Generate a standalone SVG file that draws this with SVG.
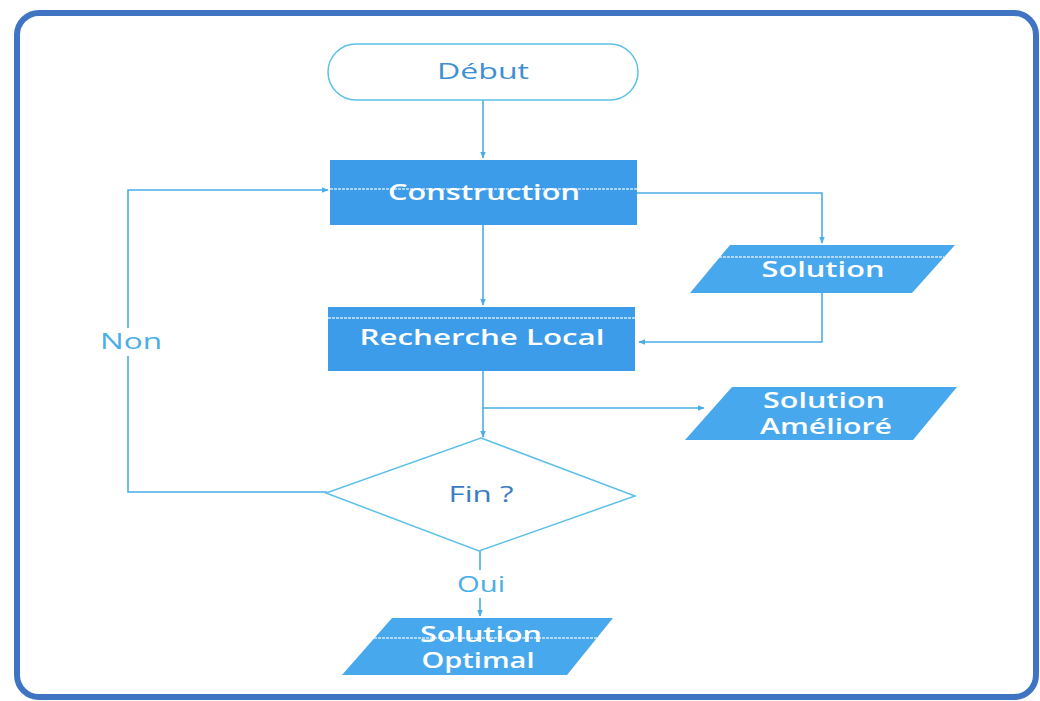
<svg xmlns="http://www.w3.org/2000/svg" width="1040" height="701" viewBox="0 0 1040 701">
  <defs>
    <marker id="arrow" viewBox="0 0 10 10" refX="9" refY="5" markerWidth="7" markerHeight="7" orient="auto" markerUnits="userSpaceOnUse">
      <path d="M0,1 L10,5 L0,9 z" fill="#4aaee6"/>
    </marker>
    <style>
      .frame { fill: #ffffff; stroke: #3f74c2; stroke-width: 6; }
      .box { fill: #3d9cea; }
      .data { fill: #48a8ee; }
      .outline { fill: #ffffff; stroke: #5cc0e8; stroke-width: 1.5; }
      .sheen { stroke: #ffffff; stroke-width: 1.5; stroke-dasharray: 3 1; opacity: 0.75; }
      .edge { fill: none; stroke: #4aaee6; stroke-width: 1.6; }
      .lbl { font-family: "Open Sans", "Noto Sans", sans-serif; text-anchor: middle; }
      .w { fill: #ffffff; font-size: 21px; font-weight: 600; }
      .t { fill: #3f8fd2; font-size: 21px; }
      .c { fill: #4aaee6; font-size: 21px; }
    </style>
  </defs>

  <!-- page frame -->
  <rect class="frame" x="17" y="13" width="1019" height="684" rx="22" ry="22"/>

  <!-- connectors -->
  <g id="connectors">
    <path class="edge" d="M483,100 V158" marker-end="url(#arrow)"/>
    <path class="edge" d="M637,193 H822 V243" marker-end="url(#arrow)"/>
    <path class="edge" d="M483,225 V305" marker-end="url(#arrow)"/>
    <path class="edge" d="M822,293 V342 H639" marker-end="url(#arrow)"/>
    <path class="edge" d="M483,371 V437" marker-end="url(#arrow)"/>
    <path class="edge" d="M483,408 H704" marker-end="url(#arrow)"/>
    <path class="edge" d="M327,492 H128 V356"/>
    <path class="edge" d="M128,328 V190 H328" marker-end="url(#arrow)"/>
    <path class="edge" d="M480,551 V570"/>
    <path class="edge" d="M480,598 V616" marker-end="url(#arrow)"/>
    <text class="lbl c" x="131" y="349" textLength="62" lengthAdjust="spacingAndGlyphs">Non</text>
    <text class="lbl c" x="481" y="592" textLength="48" lengthAdjust="spacingAndGlyphs">Oui</text>
  </g>

  <!-- start -->
  <g id="debut">
    <rect class="outline" x="328" y="44" width="310" height="56" rx="28" ry="28"/>
    <text class="lbl t" x="483" y="79" textLength="92" lengthAdjust="spacingAndGlyphs">Début</text>
  </g>

  <!-- construction step -->
  <g id="construction">
    <rect class="box" x="330" y="160" width="307" height="65"/>
    <line class="sheen" x1="330" y1="189" x2="637" y2="189"/>
    <text class="lbl w" x="484" y="200" textLength="192" lengthAdjust="spacingAndGlyphs">Construction</text>
  </g>

  <!-- first solution -->
  <g id="solution">
    <polygon class="data" points="730,245 955,245 912,293 690,293"/>
    <line class="sheen" x1="719" y1="257" x2="944" y2="257"/>
    <text class="lbl w" x="823" y="277" textLength="123" lengthAdjust="spacingAndGlyphs">Solution</text>
  </g>

  <!-- local search step -->
  <g id="recherche">
    <rect class="box" x="328" y="307" width="307" height="64"/>
    <line class="sheen" x1="328" y1="318" x2="635" y2="318"/>
    <text class="lbl w" x="482" y="345" textLength="245" lengthAdjust="spacingAndGlyphs">Recherche Local</text>
  </g>

  <!-- improved solution -->
  <g id="solution-amelioree">
    <polygon class="data" points="732,387 957,387 913,440 685,440"/>
    <text class="lbl w" x="824" y="408" textLength="122" lengthAdjust="spacingAndGlyphs">Solution</text>
    <text class="lbl w" x="826" y="434" textLength="132" lengthAdjust="spacingAndGlyphs">Amélioré</text>
  </g>

  <!-- stop test -->
  <g id="fin">
    <polygon class="outline" points="481,438 635,496 479,551 326,493"/>
    <text class="lbl t" x="481" y="502" style="fill:#3a7cc4" textLength="65" lengthAdjust="spacingAndGlyphs">Fin ?</text>
  </g>

  <!-- optimal solution -->
  <g id="solution-optimale">
    <polygon class="data" points="392,618 613,618 567,675 342,675"/>
    <line class="sheen" x1="374" y1="638" x2="597" y2="638"/>
    <text class="lbl w" x="481" y="642" textLength="122" lengthAdjust="spacingAndGlyphs">Solution</text>
    <text class="lbl w" x="478" y="668" textLength="113" lengthAdjust="spacingAndGlyphs">Optimal</text>
  </g>
</svg>
